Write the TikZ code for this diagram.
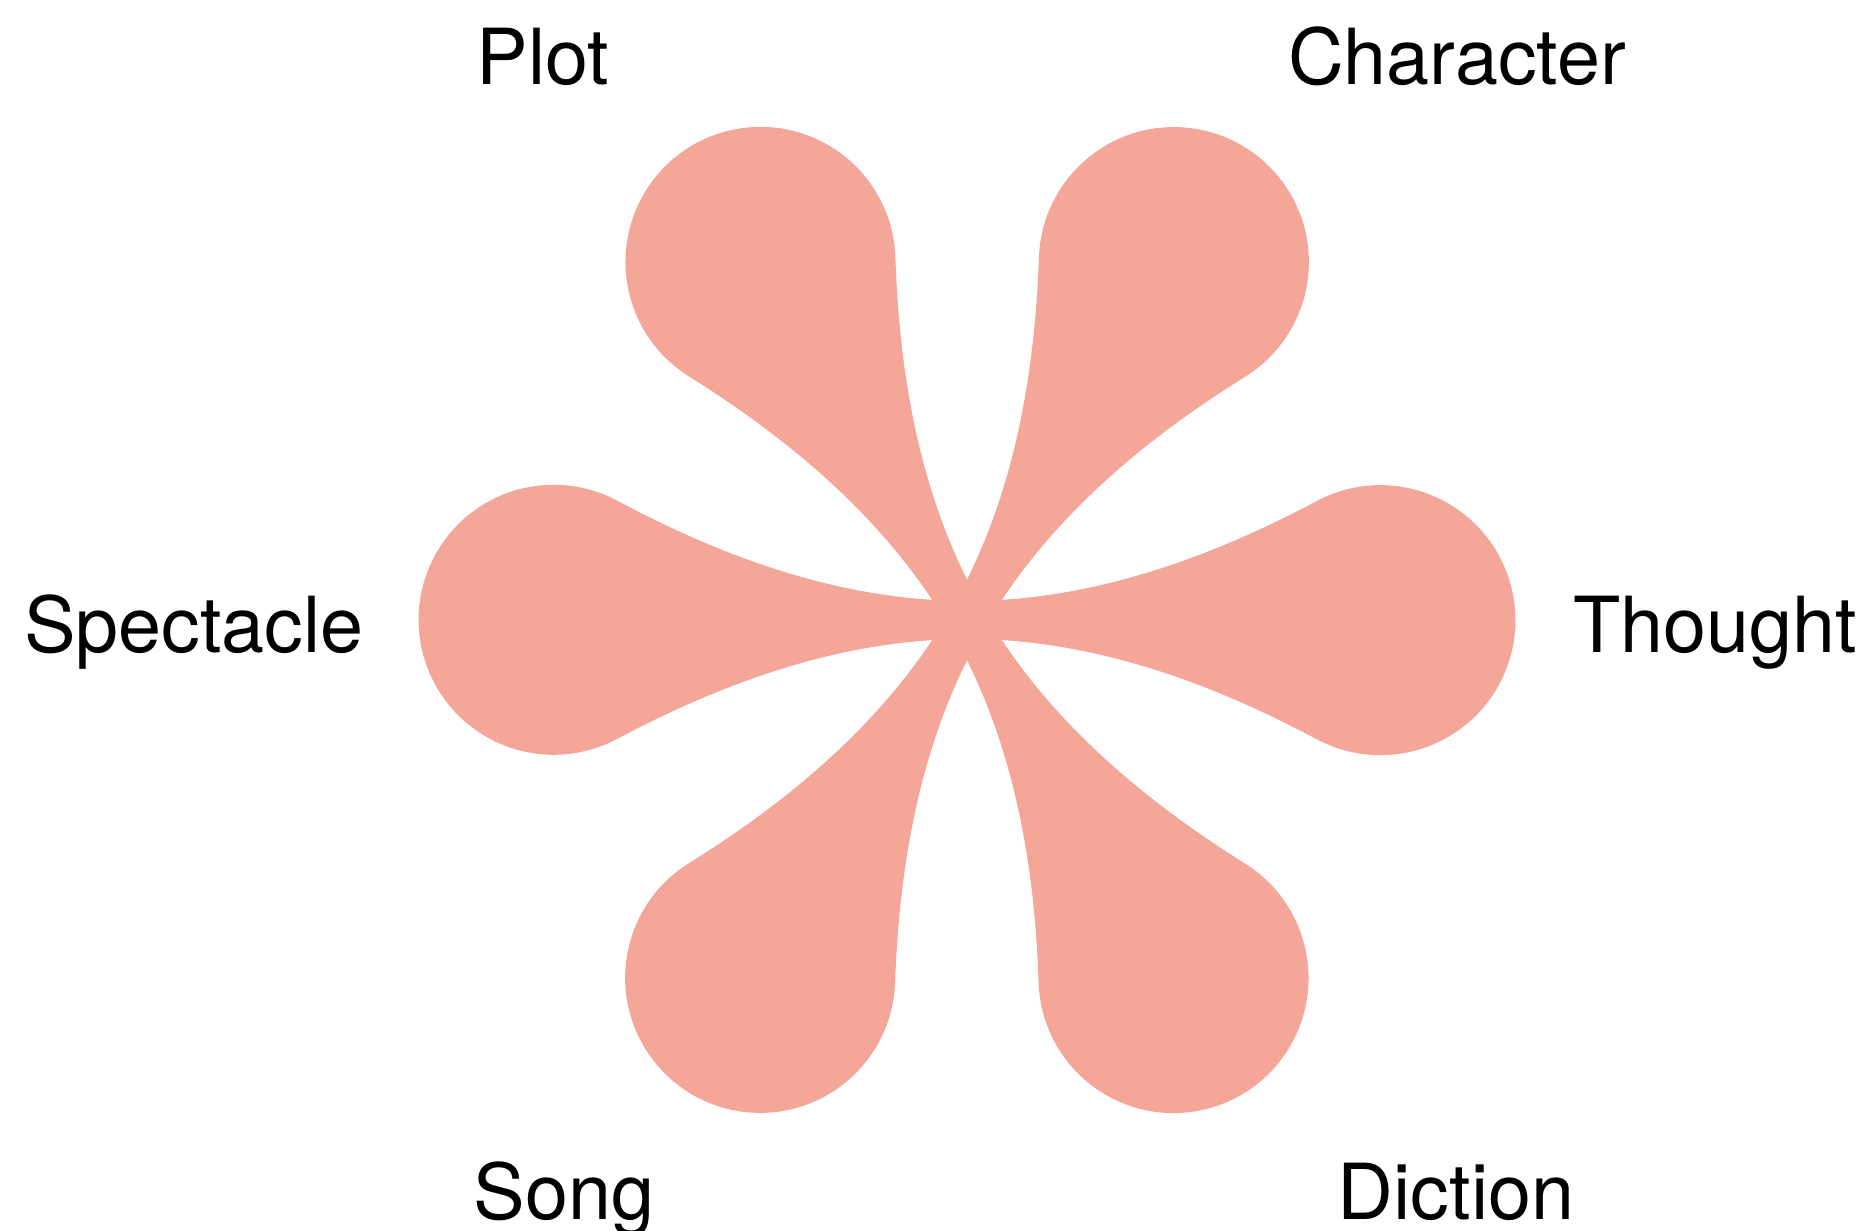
\documentclass[tikz,border=0pt]{standalone}
\usepackage{fontspec}
\setmainfont{TeX Gyre Heros}
\usepackage{tikz}
\usepackage{xcolor}

\definecolor{petalpink}{RGB}{244,166,153}

\begin{document}
\begin{tikzpicture}[x=1cm,y=1cm]
  \useasboundingbox (0,0) rectangle (18.71,12.31);
  \coordinate (hub) at (9.67,6.11);
  % six petals around the hub
  \foreach \ang in {0,60,...,300}
    \fill[petalpink,shift={(hub)},rotate=\ang]
      (0,-0.19) -- (0,0.19) .. controls (1.3,0.19) and (2.5,0.66) .. (3.5,1.19)
      arc[start angle=118,end angle=-118,radius=1.35]
      .. controls (2.5,-0.66) and (1.3,-0.19) .. (0,-0.19) -- cycle;
  \node[anchor=base,inner sep=0pt,font=\fontsize{22}{26}\selectfont] (plot) at (5.43,11.46) {Plot};
  \node[anchor=base,inner sep=0pt,font=\fontsize{22}{26}\selectfont] (character) at (14.57,11.46) {Character};
  \node[anchor=base,inner sep=0pt,font=\fontsize{22}{26}\selectfont] (spectacle) at (1.94,5.78) {Spectacle};
  \node[anchor=base,inner sep=0pt,font=\fontsize{22}{26}\selectfont] (thought) at (17.15,5.78) {Thought};
  \node[anchor=base,inner sep=0pt,font=\fontsize{22}{26}\selectfont] (song) at (5.64,0.11) {Song};
  \node[anchor=base,inner sep=0pt,font=\fontsize{22}{26}\selectfont] (diction) at (14.56,0.11) {Diction};
\end{tikzpicture}
\end{document}
